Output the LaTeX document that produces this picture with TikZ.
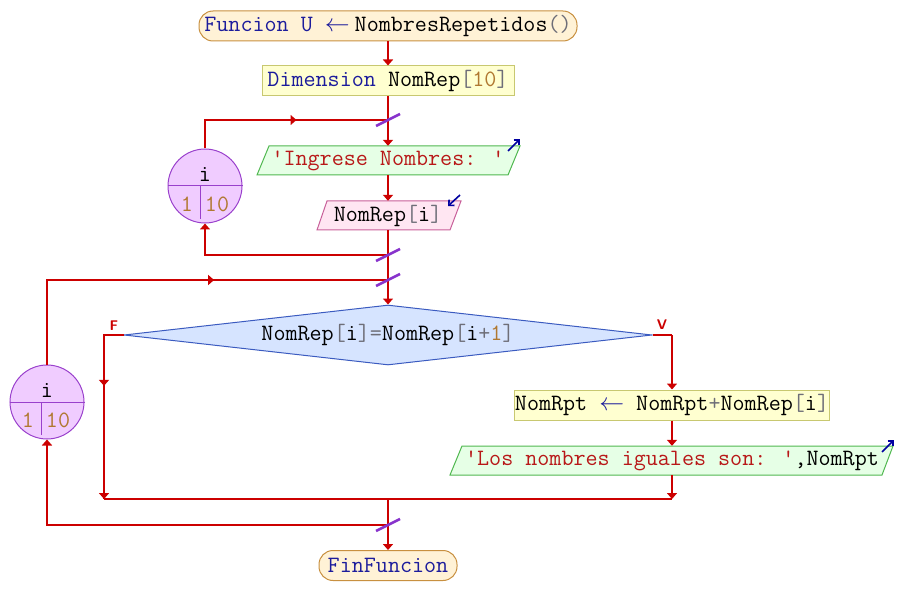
\documentclass[tikz,border=0pt]{standalone}
\usetikzlibrary{arrows.meta,shapes.geometric,calc}
\definecolor{kwc}{HTML}{1C1C9C}
\definecolor{brc}{HTML}{6E6E78}
\definecolor{numc}{HTML}{B07830}
\definecolor{strc}{HTML}{B81818}
\definecolor{flowred}{HTML}{CC0000}
\definecolor{slashc}{HTML}{8833CC}
\definecolor{termf}{HTML}{FFF2D6}
\definecolor{termb}{HTML}{C89040}
\definecolor{procf}{HTML}{FFFFD0}
\definecolor{procb}{HTML}{C8C870}
\definecolor{outf}{HTML}{E6FFE6}
\definecolor{outb}{HTML}{50B850}
\definecolor{inf}{HTML}{FFE6F2}
\definecolor{inb}{HTML}{C8609A}
\definecolor{decf}{HTML}{D6E4FF}
\definecolor{decb}{HTML}{3B5BC0}
\definecolor{circf}{HTML}{F0CCFF}
\definecolor{circb}{HTML}{9940CC}
\definecolor{bluea}{HTML}{0000A0}
\newcommand{\kwd}[1]{\textcolor{kwc}{#1}}
\newcommand{\brk}[1]{\textcolor{brc}{#1}}
\newcommand{\numb}[1]{\textcolor{numc}{#1}}
\newcommand{\strg}[1]{\textcolor{strc}{#1}}
\begin{document}
\begin{tikzpicture}[x=1pt,y=-1pt,
  font=\ttfamily\fontsize{23.4}{26}\selectfont,
  flow/.style={draw=flowred, line width=2pt},
  arr/.style={flow, -{Triangle[width=10pt,length=6pt]}},
  term/.style={draw=termb, fill=termf, rounded corners=14pt, line width=1pt, minimum height=30pt, inner sep=0pt},
  proc/.style={draw=procb, fill=procf, line width=1pt, minimum height=30pt, inner sep=0pt},
  outshape/.style={draw=outb, fill=outf, line width=1pt},
  inshape/.style={draw=inb, fill=inf, line width=1pt},
  txtbox/.style={inner sep=0pt, minimum height=29pt},
  loopc/.style={circle, draw=circb, fill=circf, line width=1pt, minimum size=74pt, inner sep=0pt},
  cline/.style={draw=circb, line width=1pt},
  slashmark/.style={draw=slashc, line width=2.5pt},
  bluearr/.style={draw=bluea, line width=1.6pt, -{Straight Barb[length=4pt,width=8pt]}},
  branch/.style={text=flowred, font=\sffamily\bfseries\fontsize{14}{15}\selectfont}
]
\useasboundingbox (0,0) rectangle (898,615);

% nodes
\node[term, minimum width=378pt] (start) at (388,26)
  {\kwd{Funcion} \kwd{U}\ \kwd{$\leftarrow$}\hspace{5pt}NombresRepetidos\brk{()}};
\node[proc, minimum width=252pt] (dim) at (388,81)
  {\kwd{Dimension} NomRep\brk{[}\numb{10}\brk{]}};

\filldraw[outshape] (257,175) -- (269,146) -- (520,146) -- (508,175) -- cycle;
\node[txtbox, minimum width=251pt] (out1) at (388,160.5) {\strg{'Ingrese Nombres: '}};

\filldraw[inshape] (317,230) -- (327,201) -- (461,201) -- (450,230) -- cycle;
\node[txtbox, minimum width=134pt] (in1) at (388,215.5) {NomRep\brk{[}i\brk{]}};

\node[diamond, draw=decb, fill=decf, line width=1pt, minimum width=528pt, minimum height=60pt, aspect=8.8, inner sep=0pt] (dec) at (388,335)
  {NomRep\brk{[}i\brk{]}\brk{=}NomRep\brk{[}i\brk{+}\numb{1}\brk{]}};

\node[proc, minimum width=311pt] (asg) at (672,405)
  {NomRpt \kwd{$\leftarrow$} NomRpt\brk{+}NomRep\brk{[}i\brk{]}};

\filldraw[outshape] (450,475) -- (462,446) -- (893,446) -- (882,475) -- cycle;
\node[txtbox, minimum width=420pt] (out2) at (672,460.5) {\strg{'Los nombres iguales son: '},NomRpt};

\node[term, minimum width=138pt] (end) at (388,565.5) {\kwd{FinFuncion}};

% loop circles
\node[loopc] (c1) at (205,186) {};
\draw[cline] (c1.west) -- (c1.east);
\draw[cline] (200,186) -- (200,219);
\node[inner sep=0pt] (c1v) at (205,174) {i};
\node[inner sep=0pt] (c1a) at (187,204) {\numb{1}};
\node[inner sep=0pt] (c1b) at (217,204) {\numb{10}};

\node[loopc] (c2) at (47,402) {};
\draw[cline] (c2.west) -- (c2.east);
\draw[cline] (41,402) -- (41,435);
\node[inner sep=0pt] (c2v) at (47,390) {i};
\node[inner sep=0pt] (c2a) at (28,420) {\numb{1}};
\node[inner sep=0pt] (c2b) at (58,420) {\numb{10}};

% branch labels
\node[branch] (lf) at (114,326) {F};
\node[branch] (lv) at (662,325) {V};

% junctions
\coordinate (j1) at (388,120);
\coordinate (j2) at (388,255);
\coordinate (j3) at (388,280);
\coordinate (j4) at (388,499);
\coordinate (j5) at (388,525);
\coordinate (l1t) at (205,120);
\coordinate (l2t) at (47,280);
\coordinate (fL) at (104,335);
\coordinate (fB) at (104,499);
\coordinate (vR) at (672,335);
\coordinate (vB) at (672,499);

% connectors
\draw[arr] (start.south) -- (dim.north);
\draw[flow] (dim.south) -- (j1);
\draw[arr] (j1) -- (out1.north);
\draw[arr] (out1.south) -- (in1.north);
\draw[flow] (in1.south) -- (j2) -- (j3);
\draw[arr] (j2) -| (c1.south);
\draw[flow] (c1.north) |- (j1);
\draw[arr] (l1t) -- ($(l1t)!0.5!(j1)$);
\draw[arr] (j3) -- (dec.north);
\draw[flow] (c2.north) |- (j3);
\draw[arr] (l2t) -- ($(l2t)!0.49!(j3)$);
\draw[flow] (dec.west) -- (fL) -- (fB);
\draw[arr] (fL) -- ($(fL)!0.31!(fB)$);
\draw[arr] ($(fL)!0.8!(fB)$) -- (fB);
\draw[flow] (dec.east) -- (vR);
\draw[arr] (vR) -- (asg.north);
\draw[arr] (asg.south) -- (out2.north);
\draw[arr] (out2.south) -- (vB);
\draw[flow] (fB) -- (vB);
\draw[flow] (j4) -- (j5);
\draw[arr] (j5) -- (end.north);
\draw[arr] (j5) -| (c2.south);

% loop slashes
\foreach \j in {j1,j2,j3,j5}
  \draw[slashmark] ($(\j)+(-12,6)$) -- ($(\j)+(12,-6)$);

% io markers
\draw[bluearr] (508,151) -- (520,139);
\draw[bluearr] (460,195) -- (448,206);
\draw[bluearr] (882,452) -- (894,440);
\end{tikzpicture}
\end{document}
